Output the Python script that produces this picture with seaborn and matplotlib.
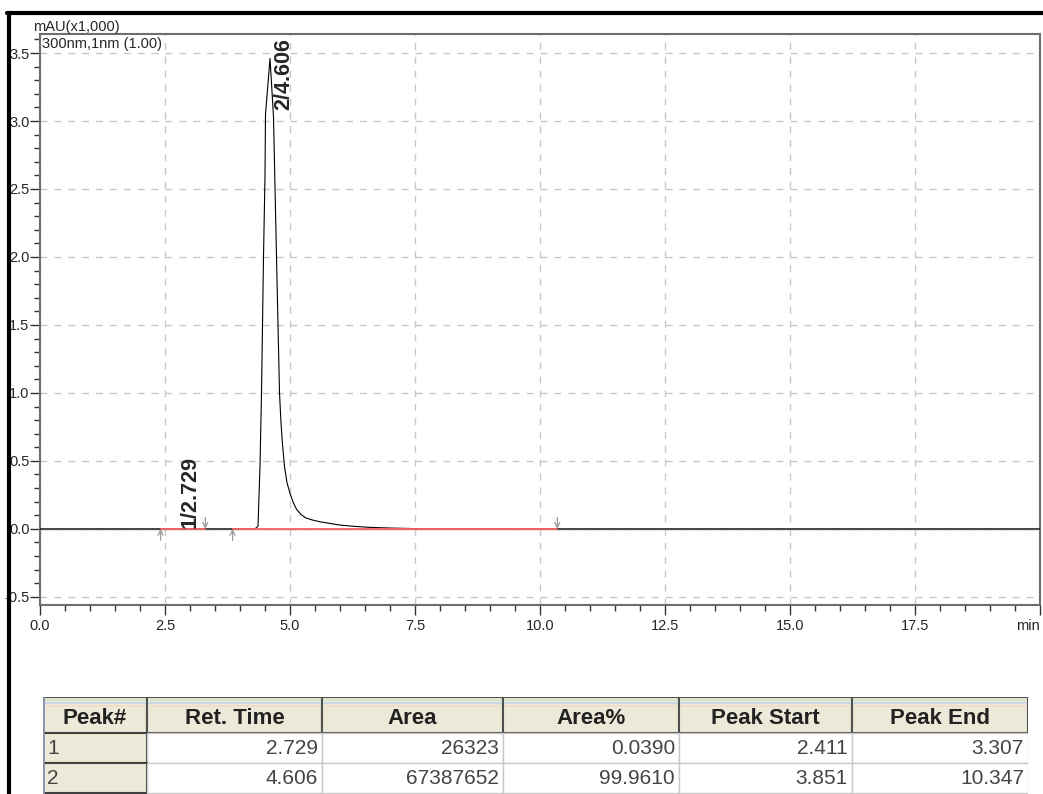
import numpy as np
import pandas as pd
import seaborn as sns
import matplotlib.pyplot as plt
from matplotlib.lines import Line2D
from matplotlib.patches import Rectangle
from matplotlib.ticker import MultipleLocator

# chromatogram trace (mAU x1000 vs min)
time = [0.0, 4.30, 4.36, 4.40, 4.43, 4.47, 4.50, 4.51, 4.55, 4.60, 4.63, 4.67,
        4.73, 4.79, 4.82, 4.85, 4.89, 4.94, 5.00, 5.07, 5.13, 5.22, 5.32, 5.45,
        5.60, 5.80, 6.00, 6.30, 6.60, 7.00, 7.50, 8.00, 20.0]
signal = [0.0, 0.0, 0.02, 0.46, 1.0, 2.0, 2.6, 3.05, 3.23, 3.46, 3.28, 3.03,
          2.0, 1.0, 0.78, 0.62, 0.46, 0.34, 0.26, 0.19, 0.145, 0.105, 0.08, 0.065,
          0.052, 0.04, 0.028, 0.018, 0.011, 0.006, 0.002, 0.0, 0.0]

# peak table
peak_no = [1, 2]
ret_time = [2.729, 4.606]
area = [26323, 67387652]
area_pct = [0.0390, 99.9610]
peak_start = [2.411, 3.851]
peak_end = [3.307, 10.347]
peak_height = [0.01, 3.46]

col_names = ['Peak#', 'Ret. Time', 'Area', 'Area%', 'Peak Start', 'Peak End']
x_ticks = [0.0, 2.5, 5.0, 7.5, 10.0, 12.5, 15.0, 17.5, 20.0]
x_labels = ['0.0', '2.5', '5.0', '7.5', '10.0', '12.5', '15.0', '17.5', 'min']
y_ticks = [-0.5, 0.0, 0.5, 1.0, 1.5, 2.0, 2.5, 3.0, 3.5]

sns.set_style("white")
plt.rcParams['font.family'] = ['Liberation Sans', 'DejaVu Sans']

W, H = 1043, 794
fig = plt.figure(figsize=(W / 100, H / 100), dpi=100)
ax = fig.add_axes([40 / W, 189 / H, 1000 / W, 571 / H])

df = pd.DataFrame({'time': time, 'signal': signal})

ax.axhline(0, color='#8c8c8c', lw=1, zorder=1)
sns.lineplot(data=df, x='time', y='signal', color='black', lw=0.8, ax=ax, zorder=3)
for s, e in zip(peak_start, peak_end):
    seg = pd.DataFrame({'t': [s, e], 'v': [0.0, 0.0]})
    sns.lineplot(data=seg, x='t', y='v', color='#ff6464', lw=1.3, ax=ax, zorder=4)

# start / end markers
arrow = dict(arrowstyle='->', color='#9a9a9a', lw=0.9, mutation_scale=9, shrinkA=0, shrinkB=0)
for s in peak_start:
    ax.annotate('', xy=(s, 0), xytext=(s, -0.085), arrowprops=arrow)
for e in peak_end:
    ax.annotate('', xy=(e, 0), xytext=(e, 0.085), arrowprops=arrow)

# peak labels
for n, rt, h in zip(peak_no, ret_time, peak_height):
    ax.text(rt + 0.27, min(h, 3.08), f'{n}/{rt:.3f}', rotation=90, ha='center',
            va='bottom', fontsize=15.5, fontweight='bold', zorder=5)

ax.set_xlim(0, 20)
ax.set_ylim(-0.56, 3.64)
ax.set_xticks(x_ticks)
ax.set_xticklabels(x_labels)
ax.set_yticks(y_ticks)
ax.set_yticklabels([f'{v:.1f}' for v in y_ticks])
ax.xaxis.set_minor_locator(MultipleLocator(0.5))
ax.yaxis.set_minor_locator(MultipleLocator(0.1))
ax.get_xticklabels()[-1].set_ha('right')
ax.set_xlabel('')
ax.set_ylabel('')

ax.tick_params(which='major', direction='out', length=7, width=1, color='#333333',
               labelsize=10.5, bottom=True, left=True)
ax.tick_params(which='minor', direction='out', length=4, width=1, color='#333333',
               bottom=True, left=True)
ax.tick_params(axis='y', pad=0.5)
ax.tick_params(axis='x', pad=3)
ax.grid(True, which='major', ls=(0, (5, 5)), color='#c8c8c8', lw=1)
for sp in ax.spines.values():
    sp.set_color('#6e6e6e')
    sp.set_linewidth(1.5)

ax.text(-0.007, 1.0, 'mAU(x1,000)', transform=ax.transAxes, ha='left', va='bottom', fontsize=10.5)
ax.text(0.002, 0.995, '300nm,1nm (1.00)', transform=ax.transAxes, ha='left', va='top', fontsize=10.5)

# black frame of the report page
fig.add_artist(Line2D([9 / W, 9 / W], [0, 1 - 13 / H], transform=fig.transFigure, color='black', lw=3))
fig.add_artist(Line2D([7 / W, 1], [1 - 13 / H, 1 - 13 / H], transform=fig.transFigure, color='black', lw=3))

# peak table
tax = fig.add_axes([43 / W, 0, 985 / W, 97 / H])
tax.set_xlim(0, 985)
tax.set_ylim(97, 0)
tax.axis('off')

widths = [104, 175, 181, 176, 173, 176]
edges = np.concatenate([[0], np.cumsum(widths)])
head_h, row_h = 36, 30

for i, name in enumerate(col_names):
    x0 = edges[i]
    tax.add_patch(Rectangle((x0, 0), widths[i], head_h, fc='#ece9d8', ec='#505050', lw=1.5))
    tax.plot([x0 + 2, x0 + widths[i] - 2], [3, 3], color='#cfe3c4', lw=1.2)
    tax.plot([x0 + 2, x0 + widths[i] - 2], [6, 6], color='#c4d6ea', lw=1.2)
    tax.plot([x0 + 2, x0 + widths[i] - 2], [9, 9], color='#f1dcc8', lw=1.2)
    tax.text(x0 + widths[i] / 2, 21, name, ha='center', va='center', fontsize=16,
             fontweight='bold', color='#222222')

rows = zip(peak_no, ret_time, area, area_pct, peak_start, peak_end)
for r, (n, rt, a, ap, s, e) in enumerate(rows):
    y0 = head_h + r * row_h
    cells = [str(n), f'{rt:.3f}', f'{a}', f'{ap:.4f}', f'{s:.3f}', f'{e:.3f}']
    for i, txt in enumerate(cells):
        x0 = edges[i]
        if i == 0:
            tax.add_patch(Rectangle((x0, y0), widths[i], row_h, fc='#ece9d8', ec='#404040', lw=1.5))
            tax.text(x0 + 4, y0 + row_h / 2 + 1, txt, ha='left', va='center', fontsize=15, color='#444444')
        else:
            tax.add_patch(Rectangle((x0, y0), widths[i], row_h, fc='white', ec='#c8c8c8', lw=1))
            tax.text(x0 + widths[i] - 4, y0 + row_h / 2 + 1, txt, ha='right', va='center',
                     fontsize=15, color='#444444')

tax.plot([0, 0], [0, 97], color='#8a90aa', lw=2)

fig.savefig('out.png', dpi=100)
